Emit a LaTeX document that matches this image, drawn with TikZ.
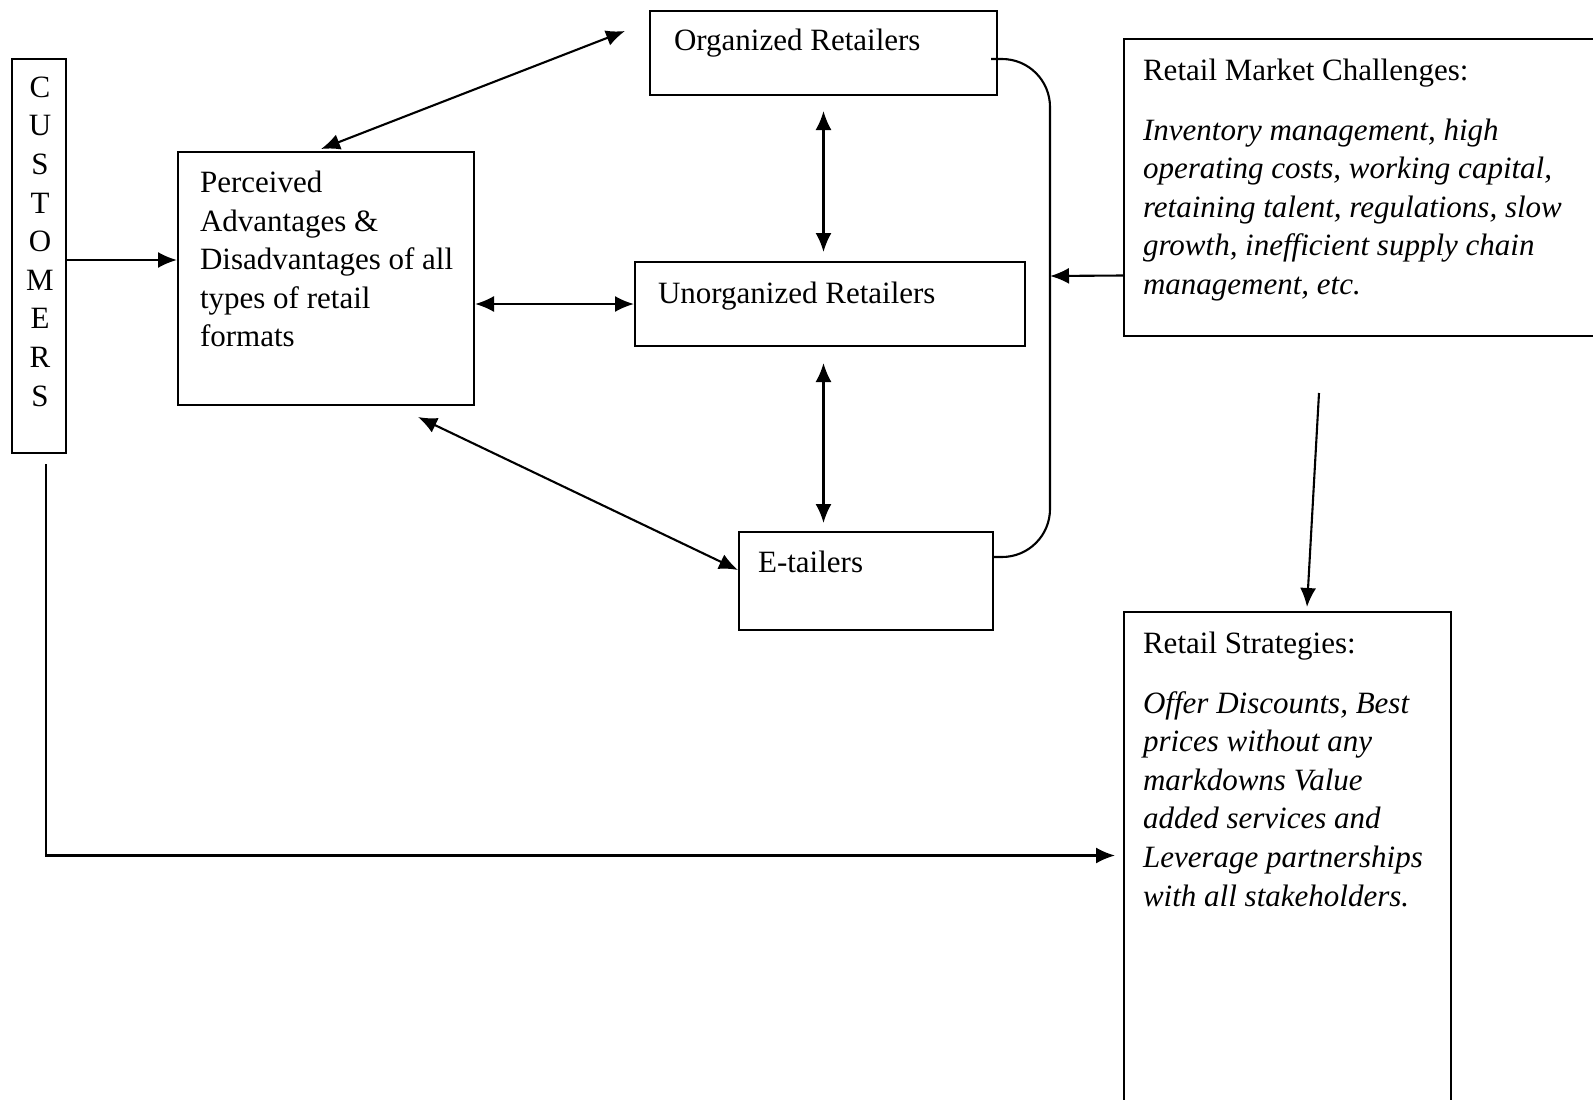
\documentclass[tikz,border=0pt]{standalone}
\usepackage{fontspec}
\setmainfont{Liberation Serif}
\usetikzlibrary{arrows.meta,positioning}

\begin{document}
\begin{tikzpicture}[x=1pt,y=-1pt,>={Latex[length=19pt,width=16pt]},line width=2.1pt,
  font=\fontsize{31}{38.6}\selectfont]
  \tikzstyle{box}=[draw,line width=2pt,anchor=north west,inner sep=0pt]
  \tikzstyle{txt}=[anchor=north west,inner sep=0pt,align=left]

  \useasboundingbox (0,0) rectangle (1593,1100);

  % boxes
  \node[box,minimum width=54pt,minimum height=394pt]  (cust)  at (11,58)   {};
  \node[box,minimum width=296pt,minimum height=253pt] (perc)  at (177,151) {};
  \node[box,minimum width=347pt,minimum height=84pt]  (org)   at (649,10)  {};
  \node[box,minimum width=390pt,minimum height=84pt]  (unorg) at (634,261) {};
  \node[box,minimum width=254pt,minimum height=98pt]  (etail) at (738,531) {};
  \node[box,minimum width=474pt,minimum height=297pt] (chal)  at (1123,38) {};
  \node[box,minimum width=327pt,minimum height=492pt] (strat) at (1123,611) {};

  % texts
  \node[inner sep=0pt,align=center] (custtxt) at (40,241.5) {C\\U\\S\\T\\O\\M\\E\\R\\S};
  \node[txt] (perctxt)  at (199,170) {Perceived\\Advantages \&\\Disadvantages of all\\types of retail\\formats};
  \node[txt] (orgtxt)   at (673,28)  {Organized Retailers};
  \node[txt] (unorgtxt) at (657,281) {Unorganized Retailers};
  \node[txt] (etailtxt) at (757,550) {E-tailers};
  \node[txt] (chaltxt)  at (1142,58) {Retail Market Challenges:\\[21pt]
    \itshape Inventory management, high\\\itshape operating costs, working capital,\\
    \itshape retaining talent, regulations, slow\\\itshape growth, inefficient supply chain\\
    \itshape management, etc.};
  \node[txt] (strattxt) at (1142,631) {Retail Strategies:\\[21pt]
    \itshape Offer Discounts, Best\\\itshape prices without any\\\itshape markdowns Value\\
    \itshape added services and\\\itshape Leverage partnerships\\\itshape with all stakeholders.};

  \coordinate (brk) at (1050,276);

  % connectors
  \draw[->] ([yshift=-4pt]cust.east) -- ([yshift=-4pt]cust.east -| perc.west);
  \draw[<->] (unorg.west -| perc.east) -- (unorg.west);
  \draw[<->] ([xshift=-5pt,yshift=2pt]perc.north) -- ([xshift=-24pt,yshift=22pt]org.west);
  \draw[<->] ([xshift=92pt,yshift=-11pt]perc.south) -- ([yshift=11pt]etail.west);
  \draw[<->] ([yshift=-15pt]org.south) -- ([yshift=9pt]org.south |- unorg.north);
  \draw[<->] ([yshift=-16pt]org.south |- unorg.south) -- ([yshift=8pt]org.south |- etail.north);
  \draw[rounded corners=48pt] ([xshift=-7pt,yshift=-6pt]org.east) -- ([yshift=-6pt]org.east -| brk)
    -- ([yshift=24pt]etail.east -| brk) -- ([yshift=24pt]etail.east);
  \draw[->] ([yshift=-88pt]chal.west) -- (brk);
  \draw[->] ([xshift=-42pt,yshift=-56pt]chal.south) -- ([xshift=19.5pt,yshift=4pt]strat.north);
  \draw[->] ([xshift=7pt,yshift=-10pt]cust.south) |- ([xshift=-8pt,yshift=2.5pt]strat.west);
\end{tikzpicture}
\end{document}
